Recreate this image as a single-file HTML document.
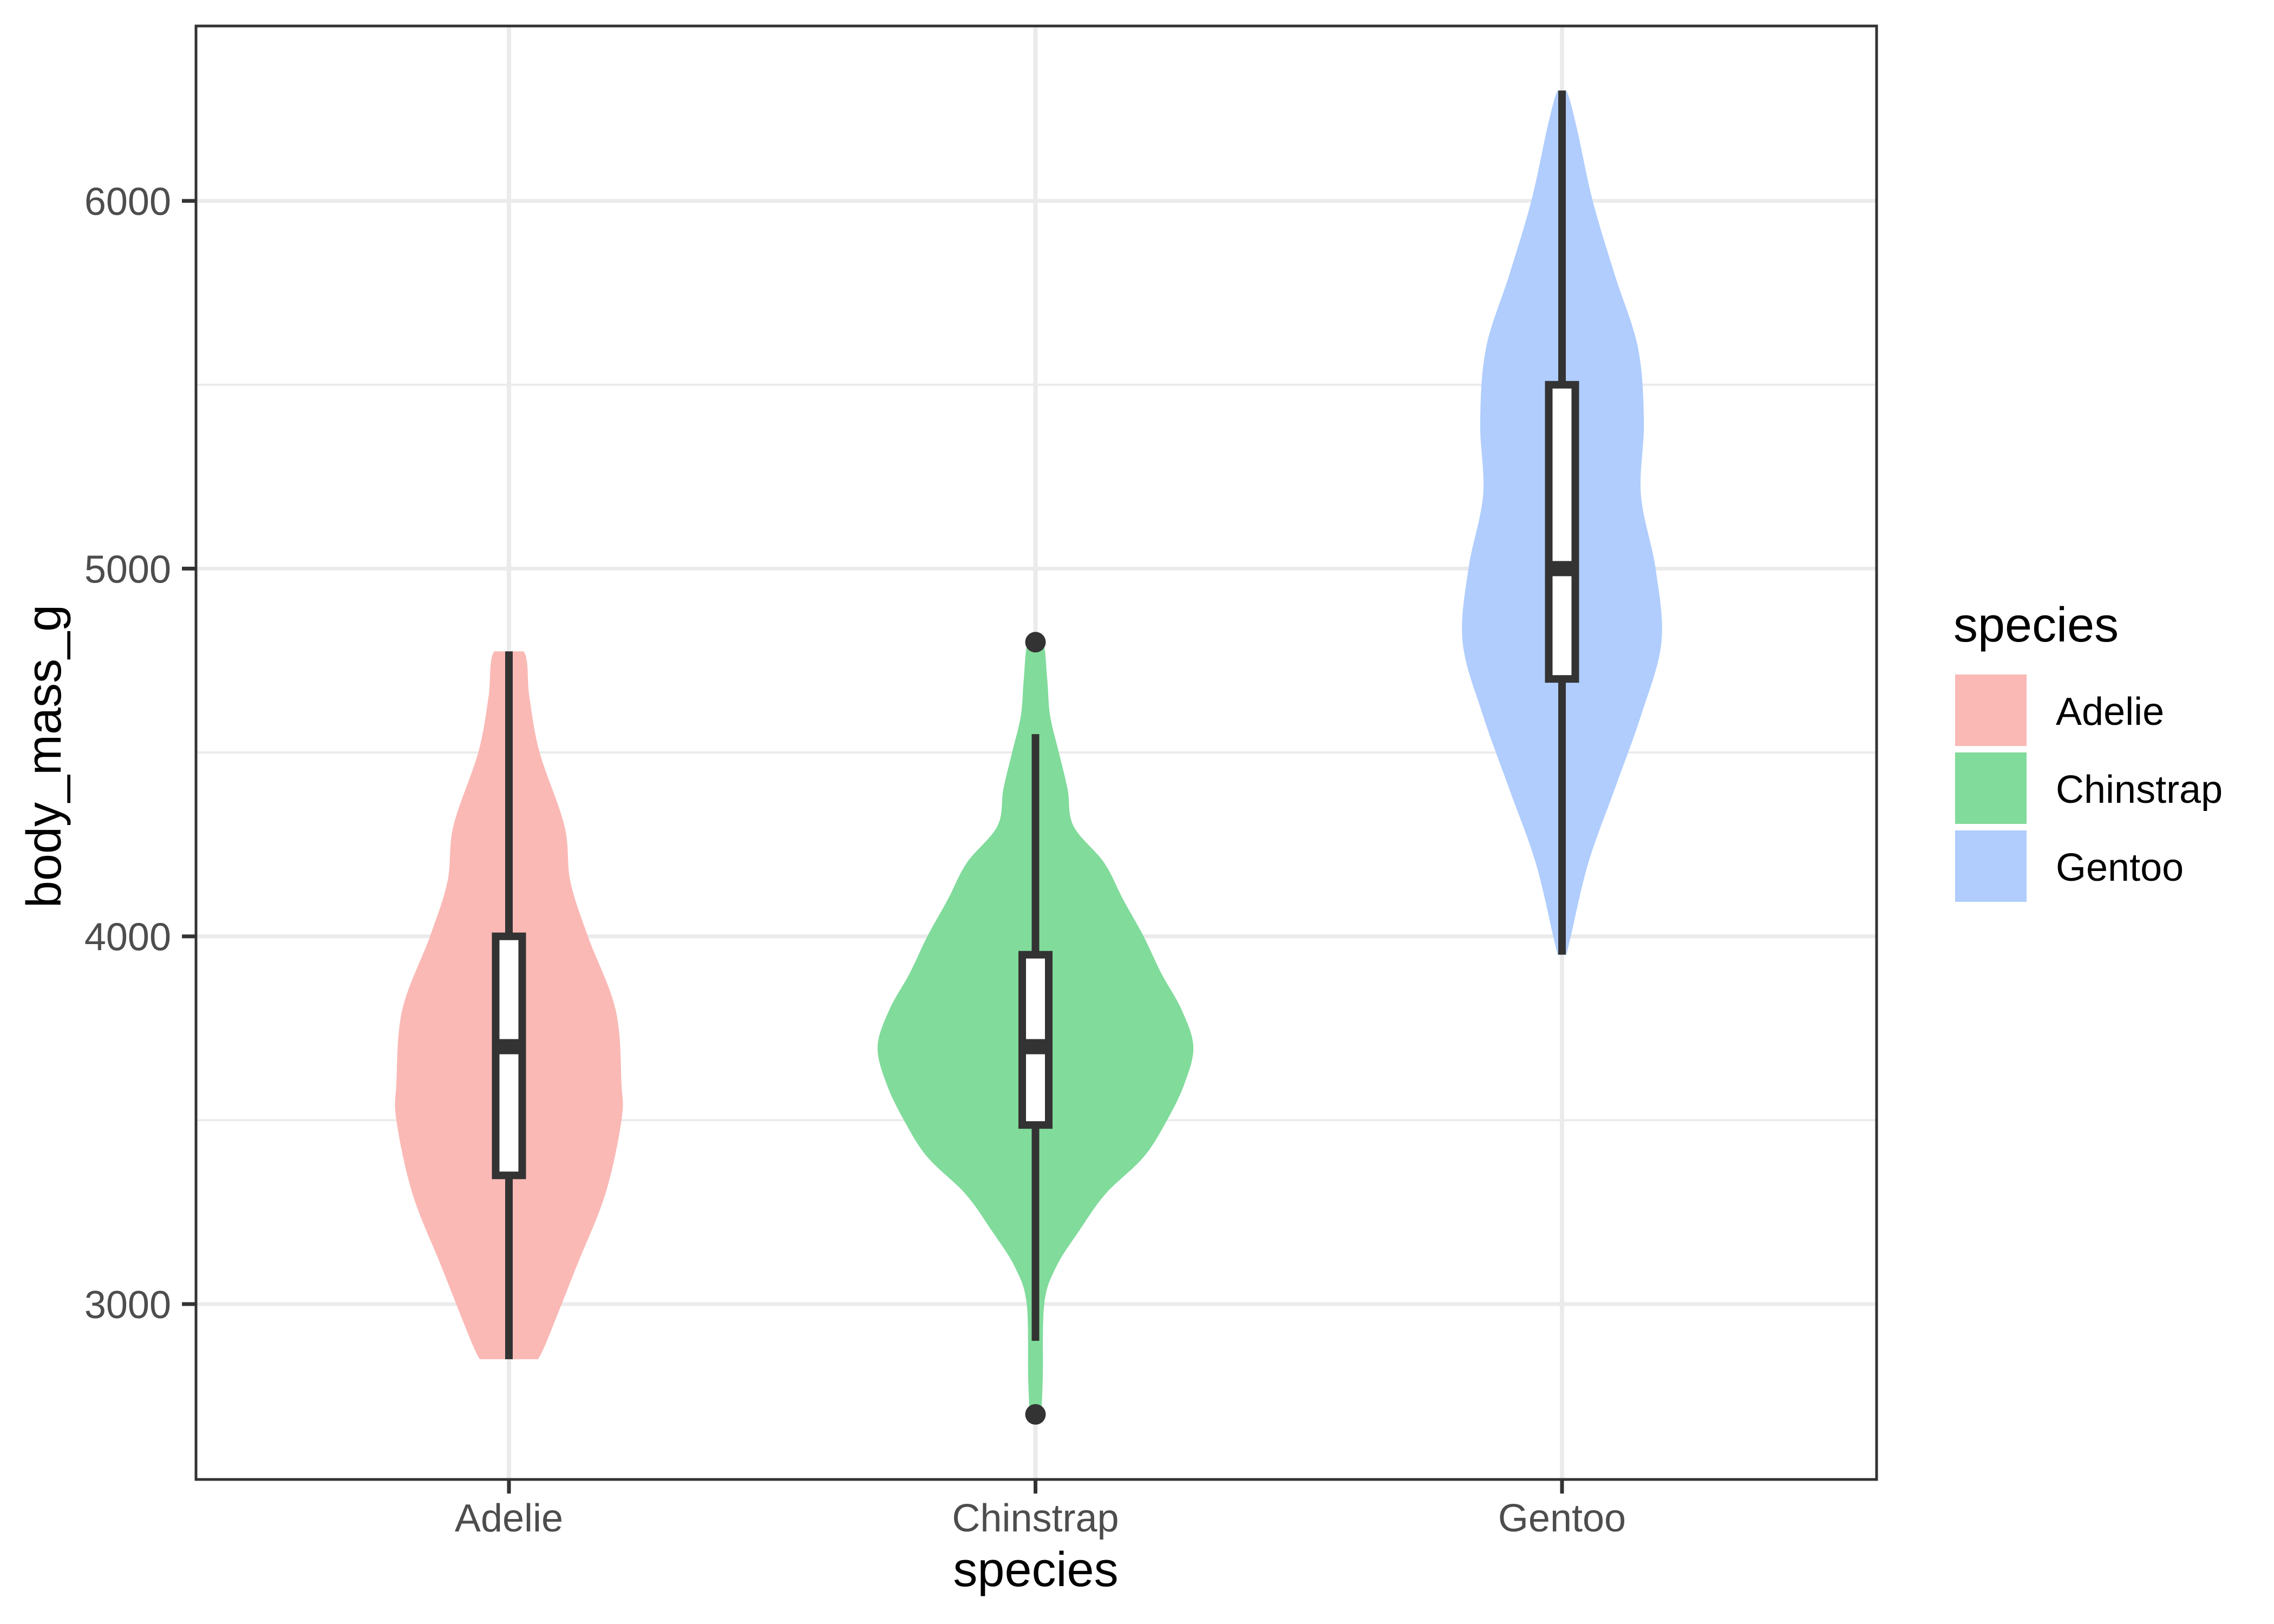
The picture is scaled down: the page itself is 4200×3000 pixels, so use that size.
<!DOCTYPE html>
<html><head><meta charset="utf-8"><style>
html,body{margin:0;padding:0;background:#fff;}
svg{display:block;font-family:"Liberation Sans",Arial,sans-serif;}
</style></head><body>
<svg id="chart" width="4200" height="3000" viewBox="0 0 4200 3000" xmlns="http://www.w3.org/2000/svg">
<rect width="4200" height="3000" fill="#fff"/>
<g id="grid"></g>
<g id="violins"></g>
<g id="boxes"></g>
<rect x="362" y="48" width="3104" height="2685" fill="none" stroke="#333" stroke-width="5"/>
<g id="axes"></g>
<text x="1913" y="2930" font-size="90" text-anchor="middle" fill="#000">species</text>
<text transform="translate(112,1397) rotate(-90)" font-size="90" text-anchor="middle" fill="#000">body_mass_g</text>
<g id="legend">
<text x="3608" y="1185" font-size="90" fill="#000">species</text>
</g>
</svg>
<script>
const categories = ["Adelie","Chinstrap","Gentoo"];
const colors = ["#fab9b5","#81db9b","#b0cdfe"];
const yTicks = [3000,4000,5000,6000];
const yMinor = [3500,4500,5500];
// violin profiles: body mass values and density half-widths (relative)
const adelieY = [2850,2900,3100,3300,3500,3600,3800,4000,4150,4300,4500,4650,4775];
const adelieW = [20,26,46,66,77,77,73,54,42,38,21,14,10];
const chinY = [2700,2800,3000,3100,3200,3300,3400,3500,3600,3700,3800,3900,4000,4100,4200,4300,4400,4500,4600,4700,4800];
const chinW = [4,5,6,14,30,48,74,90,102,108,100,86,74,60,47,26,22,16,10,8,5];
const gentY = [3950,4000,4200,4400,4600,4800,5000,5200,5400,5600,5800,6000,6200,6300];
const gentW = [3,6,18,36,54,68,64,54,56,52,36,21,10,3];
// box stats: [lowerWhisker, q1, median, q3, upperWhisker]
const adelieBox = [2850,3350,3700,4000,4775];
const chinBox = [2900,3487,3700,3950,4550];
const gentBox = [3950,4700,5000,5500,6300];
const chinOutliers = [2700,4800];

const NS="http://www.w3.org/2000/svg";
const X0=940, XSTEP=972.5;
function xPos(i){return X0+i*XSTEP;}
function yPos(v){return 2409-(v-3000)*0.6793;}
const WS=2.7;
function mk(tag,attrs,parent){const e=document.createElementNS(NS,tag);for(const k in attrs)e.setAttribute(k,attrs[k]);parent.appendChild(e);return e;}
const grid=document.getElementById('grid');
yMinor.forEach(v=>{const l=mk('line',{x1:362,x2:3466,y1:yPos(v),y2:yPos(v),stroke:'#ebebeb','stroke-width':4},grid);

});
yTicks.forEach(v=>{const l=mk('line',{x1:362,x2:3466,y1:yPos(v),y2:yPos(v),stroke:'#ebebeb','stroke-width':7},grid);

});
categories.forEach((c,i)=>{const l=mk('line',{x1:xPos(i),x2:xPos(i),y1:48,y2:2733,stroke:'#ebebeb','stroke-width':8},grid);

});

const vg=document.getElementById('violins');
const profiles=[[adelieY,adelieW],[chinY,chinW],[gentY,gentW]];
profiles.forEach((p,i)=>{
  const cx=xPos(i);let pts=[];
  for(let k=0;k<p[0].length;k++)pts.push([cx+p[1][k]*WS,yPos(p[0][k])]);
  for(let k=p[0].length-1;k>=0;k--)pts.push([cx-p[1][k]*WS,yPos(p[0][k])]);
  // smooth via catmull-rom
  let d='M'+pts[0][0]+','+pts[0][1];
  const n=pts.length;
  for(let k=0;k<n-1;k++){
    const p0=pts[Math.max(0,k-1)],p1=pts[k],p2=pts[k+1],p3=pts[Math.min(n-1,k+2)];
    const half=p[0].length;
    if(k===half-1){d+=' L'+p2[0]+','+p2[1];continue;}
    const c1=[p1[0]+(p2[0]-p0[0])/6,p1[1]+(p2[1]-p0[1])/6];
    const c2=[p2[0]-(p3[0]-p1[0])/6,p2[1]-(p3[1]-p1[1])/6];
    d+=' C'+c1[0]+','+c1[1]+' '+c2[0]+','+c2[1]+' '+p2[0]+','+p2[1];
  }
  d+='Z';
  const e=mk('path',{d:d,fill:colors[i]},vg);
  
  
});

const bg=document.getElementById('boxes');
[adelieBox,chinBox,gentBox].forEach((b,i)=>{
  const cx=xPos(i);
  const w1=mk('line',{x1:cx,x2:cx,y1:yPos(b[0]),y2:yPos(b[1]),stroke:'#333','stroke-width':14},bg);
  
  
  const w2=mk('line',{x1:cx,x2:cx,y1:yPos(b[3]),y2:yPos(b[4]),stroke:'#333','stroke-width':14},bg);
  
  
  const r=mk('rect',{x:cx-24.5,y:yPos(b[3]),width:49,height:yPos(b[1])-yPos(b[3]),fill:'#fff',stroke:'#333','stroke-width':14},bg);
  
  
  const m=mk('line',{x1:cx-31,x2:cx+31,y1:yPos(b[2]),y2:yPos(b[2]),stroke:'#333','stroke-width':28},bg);
  
  
});
chinOutliers.forEach(v=>{const c=mk('circle',{cx:xPos(1),cy:yPos(v),r:19,fill:'#333'},bg);

});

const ax=document.getElementById('axes');
yTicks.forEach(v=>{
  const t=mk('line',{x1:336,x2:362,y1:yPos(v),y2:yPos(v),stroke:'#333','stroke-width':7},ax);
  
  
  const l=mk('text',{x:316,y:yPos(v)+26,'font-size':72,'text-anchor':'end',fill:'#4d4d4d'},ax);
  l.textContent=v;
  
  
});
categories.forEach((c,i)=>{
  const t=mk('line',{x1:xPos(i),x2:xPos(i),y1:2733,y2:2759,stroke:'#333','stroke-width':7},ax);
  
  
  const l=mk('text',{x:xPos(i),y:2829,'font-size':72,'text-anchor':'middle',fill:'#4d4d4d'},ax);
  l.textContent=c;
  
  
});

const lg=document.getElementById('legend');
categories.forEach((c,i)=>{
  const y=1246+i*144;
  const k=mk('rect',{x:3611,y:y,width:132,height:132,fill:colors[i]},lg);
  
  
  const t=mk('text',{x:3797,y:y+93,'font-size':72,fill:'#000'},lg);
  t.textContent=c;
  
  
});
</script>
</body></html>
